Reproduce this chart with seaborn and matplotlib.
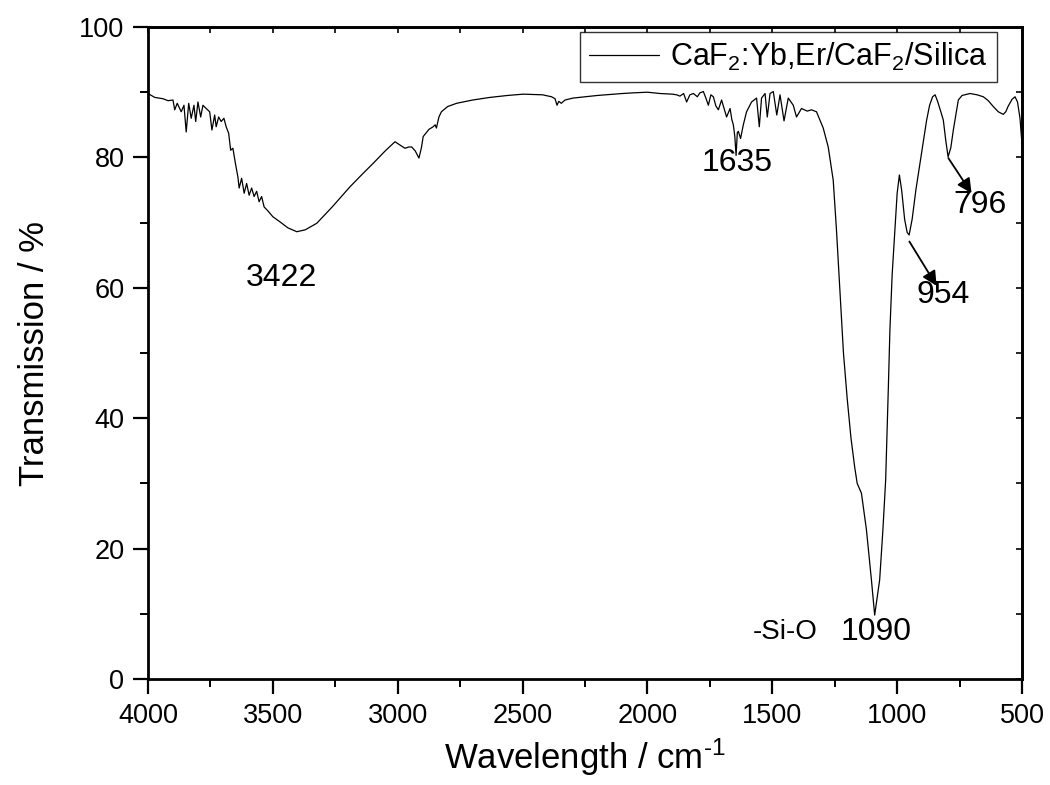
import matplotlib
matplotlib.use("Agg")
import matplotlib.pyplot as plt
import seaborn as sns
import pandas as pd
from matplotlib.ticker import MultipleLocator

# ---- data ----
wavenumber = [4000, 3973, 3940, 3920, 3900, 3893, 3883, 3867, 3856, 3847, 3837, 3827, 3816, 3809,
              3800, 3789, 3780, 3767, 3753, 3744, 3733, 3727, 3717, 3707, 3696, 3687, 3677, 3669,
              3660, 3650, 3640, 3635, 3625, 3615, 3605, 3595, 3585, 3575, 3565, 3555, 3545, 3535,
              3520, 3500, 3471, 3440, 3404, 3370, 3324, 3260, 3191, 3140, 3098, 3050, 3011, 2995,
              2971, 2955, 2944, 2930, 2915, 2905, 2898, 2875, 2858, 2850, 2845, 2835, 2825, 2800,
              2764, 2700, 2631, 2560, 2497, 2420, 2384, 2370, 2362, 2355, 2345, 2330, 2298, 2200,
              2100, 2057, 2000, 1950, 1900, 1883, 1870, 1855, 1843, 1830, 1816, 1800, 1790, 1776,
              1765, 1756, 1746, 1736, 1726, 1716, 1703, 1693, 1683, 1669, 1662, 1656, 1650, 1645,
              1640, 1636, 1627, 1616, 1603, 1583, 1563, 1552, 1543, 1529, 1520, 1509, 1496, 1482,
              1469, 1453, 1436, 1416, 1403, 1383, 1360, 1343, 1323, 1296, 1276, 1256, 1243, 1230,
              1215, 1200, 1185, 1170, 1160, 1143, 1123, 1103, 1090, 1070, 1057, 1046, 1035, 1029,
              1020, 1009, 1000, 991, 982, 970, 960, 952, 940, 925, 908, 888, 882, 870, 858, 848,
              838, 825, 815, 805, 796, 785, 775, 755, 740, 708, 680, 655, 635, 615, 595, 575, 565,
              556, 540, 528, 518, 508, 500]
transmission = [89.8, 89.2, 89.0, 88.7, 88.8, 87.3, 88.3, 87.0, 88.0, 83.9, 88.3, 86.0, 88.0, 85.5,
                88.5, 86.2, 88.0, 87.5, 87.0, 84.2, 86.5, 84.7, 86.2, 85.5, 86.0, 84.7, 83.7, 81.1,
                81.4, 79.1, 77.0, 75.3, 76.8, 74.5, 76.0, 74.2, 75.3, 74.0, 74.8, 73.2, 74.0, 72.4,
                71.8, 70.9, 70.1, 69.2, 68.6, 68.9, 69.9, 72.5, 75.5, 77.5, 79.1, 81.0, 82.4, 82.0,
                81.4, 81.6, 81.6, 81.0, 79.9, 81.5, 83.2, 84.3, 84.7, 85.0, 84.5, 86.2, 87.0, 87.8,
                88.3, 88.8, 89.2, 89.5, 89.7, 89.6, 89.3, 89.0, 88.0, 88.6, 88.3, 88.8, 89.1, 89.5,
                89.8, 89.9, 90.0, 89.8, 89.7, 89.6, 89.4, 89.8, 88.5, 89.6, 89.8, 89.3, 89.9, 90.1,
                89.0, 88.0, 89.6, 89.3, 87.9, 87.3, 88.8, 87.5, 86.2, 87.5, 85.8, 85.0, 83.2, 80.3,
                83.8, 84.0, 82.9, 85.0, 87.0, 88.5, 89.1, 84.7, 89.1, 89.8, 86.2, 89.8, 90.1, 86.5,
                89.6, 85.6, 89.1, 88.0, 86.2, 87.5, 87.1, 87.3, 87.0, 84.5, 81.6, 76.5, 68.9, 60.0,
                50.0, 43.0, 37.0, 32.5, 30.0, 28.5, 22.9, 15.2, 9.8, 15.2, 22.9, 30.5, 45.0, 53.5,
                62.0, 68.9, 74.5, 77.3, 75.0, 70.5, 68.5, 68.1, 70.5, 75.0, 79.1, 84.2, 85.7, 88.0,
                89.3, 89.6, 88.6, 87.0, 85.7, 82.5, 80.1, 81.5, 84.2, 88.8, 89.5, 89.8, 89.6, 89.3,
                88.7, 87.8, 87.0, 86.6, 87.0, 87.8, 88.9, 89.3, 88.5, 86.0, 82.0]

series_label = "CaF$_2$:Yb,Er/CaF$_2$/Silica"
x_ticks = [4000, 3500, 3000, 2500, 2000, 1500, 1000, 500]
y_ticks = [0, 20, 40, 60, 80, 100]

# peak labels
peak_labels = ["3422", "1635", "-Si-O", "1090", "954", "796"]
label_x = [3467, 1641, 1449, 1085, 816, 668]
label_y = [61.5, 79.1, 7.2, 7.2, 58.9, 72.7]
label_size = [23, 23, 20, 23, 23, 23]

sns.set_theme(style="ticks")
plt.rcParams['font.family'] = ['Liberation Sans', 'DejaVu Sans']
plt.rcParams['mathtext.fontset'] = 'custom'
plt.rcParams['mathtext.rm'] = 'Liberation Sans'
plt.rcParams['mathtext.it'] = 'Liberation Sans'
plt.rcParams['mathtext.default'] = 'regular'
plt.rcParams['text.color'] = 'black'
plt.rcParams['axes.labelcolor'] = 'black'
plt.rcParams['xtick.color'] = 'black'
plt.rcParams['ytick.color'] = 'black'

df = pd.DataFrame({"wn": wavenumber, "T": transmission})

fig = plt.figure(figsize=(10.5, 7.85), dpi=100)
ax = fig.add_axes([148/1050, 1 - 679/785, (1022-148)/1050, (679-27)/785])

sns.lineplot(data=df, x="wn", y="T", ax=ax, color="black", linewidth=0.9,
             estimator=None, sort=True, label=series_label)

ax.set_xlim(4000, 500)
ax.set_ylim(0, 100)
ax.set_xticks(x_ticks)
ax.set_yticks(y_ticks)
ax.xaxis.set_minor_locator(MultipleLocator(250))
ax.yaxis.set_minor_locator(MultipleLocator(10))
ax.tick_params(which='major', direction='out', length=11, width=1.6, labelsize=19.5, pad=6,
               color='black', labelcolor='black')
ax.tick_params(which='minor', direction='out', length=6, width=1.4, color='black')
for s in ax.spines.values():
    s.set_linewidth(2.0)
    s.set_color('black')

# inward ticks on top and right
secx = ax.secondary_xaxis('top')
secx.set_xticks(x_ticks)
secx.xaxis.set_minor_locator(MultipleLocator(250))
secx.tick_params(which='both', direction='in', length=4, width=1.2, labeltop=False, color='black')
secx.spines['top'].set_linewidth(2.0)
secy = ax.secondary_yaxis('right')
secy.set_yticks(y_ticks)
secy.yaxis.set_minor_locator(MultipleLocator(10))
secy.tick_params(which='both', direction='in', length=4, width=1.2, labelright=False, color='black')
secy.spines['right'].set_linewidth(2.0)

ax.set_xlabel("Wavelength / cm$^{\u2010 1}$", fontsize=25, labelpad=6)
ax.set_ylabel("Transmission / %", fontsize=25, labelpad=20)

leg = ax.legend(loc='upper right', bbox_to_anchor=(0.971, 0.993), borderaxespad=0,
                fontsize=22, frameon=True, fancybox=False, handlelength=2.3,
                handletextpad=0.35, borderpad=0.3)
leg.get_frame().set_edgecolor('black')
leg.get_frame().set_linewidth(1.0)

for t, lx, ly, fs in zip(peak_labels, label_x, label_y, label_size):
    ax.text(lx, ly, t, fontsize=fs, ha='center', va='center', color='black')

# arrows for 954 and 796
arrow_start_x = [951, 795]
arrow_start_y = [67.1, 79.9]
arrow_end_x = [842, 702]
arrow_end_y = [60.3, 74.5]
for sx, sy, ex, ey in zip(arrow_start_x, arrow_start_y, arrow_end_x, arrow_end_y):
    ax.annotate("", xy=(ex, ey), xytext=(sx, sy),
                arrowprops=dict(arrowstyle='-|>', color='black', lw=1.3, mutation_scale=22,
                                shrinkA=0, shrinkB=0))

fig.savefig("out.png", dpi=100)
